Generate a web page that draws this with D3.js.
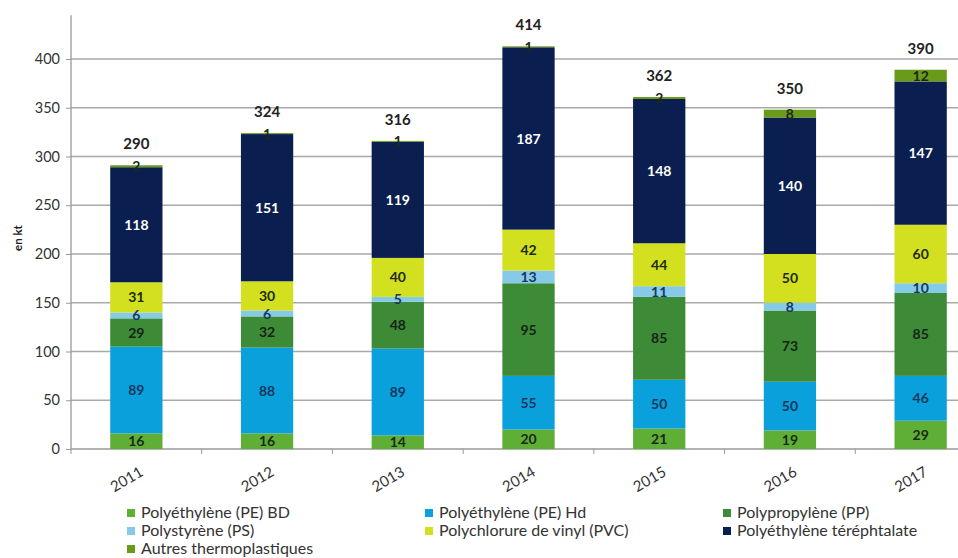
<!DOCTYPE html>
<html><head><meta charset="utf-8">
<script src="https://cdn.jsdelivr.net/npm/d3@7"></script>
<style>body{margin:0;background:#fff}svg{display:block;font-family:Lato,"Open Sans",sans-serif}</style>
</head><body><svg id="c" width="958" height="558"></svg>
<script>
const years = ["2011","2012","2013","2014","2015","2016","2017"];
const seriesNames = ["Polyéthylène (PE) BD","Polyéthylène (PE) Hd","Polypropylène (PP)","Polystyrène (PS)","Polychlorure de vinyl (PVC)","Polyéthylène téréphtalate","Autres thermoplastiques"];
const peBD  = [16,16,14,20,21,19,29];
const peHd  = [89,88,89,55,50,50,46];
const pp    = [29,32,48,95,85,73,85];
const ps    = [6,6,5,13,11,8,10];
const pvc   = [31,30,40,42,44,50,60];
const pet   = [118,151,119,187,148,140,147];
const autres= [2,1,1,1,2,8,12];
const totals= [290,324,316,414,362,350,390];
const yTicks = [0,50,100,150,200,250,300,350,400];

const seriesValues = [peBD, peHd, pp, ps, pvc, pet, autres];
const colors = ["#5fae36","#0aa0dc","#3d8b37","#85cbe8","#d2e020","#0a1f4f","#6a9a1a"];
const labelColors = ["#1a2a1a","#17375e","#142414","#17375e","#1e2a10","#ffffff","#1a2a10"];

const svg = d3.select("#c");
const x = d3.scaleBand().domain(years).range([71, 986]).paddingInner(0.6).paddingOuter(0.3);
const y = d3.scaleLinear().domain([0, 450]).range([449, 10.25]);

// gridlines
svg.append("g").selectAll("line").data(yTicks.filter(d=>d>0)).join("line")
  .attr("x1", 71).attr("x2", 958).attr("y1", d=>y(d)).attr("y2", d=>y(d))
  .attr("stroke", "#a9a9a9").attr("stroke-width", 1.3);

// y axis
const yAxis = d3.axisLeft(y).tickValues(yTicks).tickSize(5).tickPadding(6);
const ga = svg.append("g").attr("transform","translate(71,0)").call(yAxis);
ga.select(".domain").remove();
ga.selectAll(".tick line").attr("stroke","#999");
ga.selectAll(".tick text").attr("font-size",14.5).attr("fill","#333").attr("font-family","Lato, sans-serif");
svg.append("line").attr("x1",71).attr("x2",71).attr("y1",y(0)).attr("y2",y(445)).attr("stroke","#999").attr("stroke-width",1.3);

// x axis
svg.append("line").attr("x1",71).attr("x2",958).attr("y1",y(0)).attr("y2",y(0)).attr("stroke","#999").attr("stroke-width",1.3);
svg.append("g").selectAll("line").data(years).join("line")
  .attr("x1", d=>x(d) - x.step()*0.3).attr("x2", d=>x(d) - x.step()*0.3)
  .attr("y1", y(0)).attr("y2", y(0)+5).attr("stroke","#999");
svg.append("g").selectAll("text").data(years).join("text")
  .attr("transform", d=>`translate(${x(d)+x.bandwidth()/2+8},${y(0)+26}) rotate(-30)`)
  .attr("text-anchor","end").attr("font-size",15).attr("fill","#333").text(d=>d);

// y title
svg.append("text").attr("transform",`translate(22,${y(0)-(y(0)-y(445))/2+6}) rotate(-90)`)
  .attr("text-anchor","middle").attr("font-size",11.5).attr("font-weight","bold").attr("fill","#222").text("en kt");

// stacked data
const rows = years.map((yr,i)=>{ const o={year:yr}; seriesNames.forEach((s,k)=>o[s]=seriesValues[k][i]); return o; });
const stacked = d3.stack().keys(seriesNames)(rows);

const layers = svg.append("g").selectAll("g").data(stacked).join("g").attr("fill",(d,i)=>colors[i]);
layers.selectAll("rect").data(d=>d).join("rect")
  .attr("x", d=>x(d.data.year)).attr("width", x.bandwidth())
  .attr("y", d=>y(d[1])).attr("height", d=>y(d[0])-y(d[1]));

const lab = svg.append("g").selectAll("g").data(stacked).join("g");
lab.each(function(layer, li){
  d3.select(this).selectAll("text").data(layer).join("text")
    .attr("x", d=>x(d.data.year)+x.bandwidth()/2)
    .attr("y", d=>(y(d[0])+y(d[1]))/2)
    .attr("dy","0.36em").attr("text-anchor","middle")
    .attr("font-size",14).attr("font-weight","bold").attr("fill",labelColors[li])
    .text(d=>d[1]-d[0]);
});

// totals
svg.append("g").selectAll("text").data(years).join("text")
  .attr("x", d=>x(d)+x.bandwidth()/2)
  .attr("y", (d,i)=>y(stacked[stacked.length-1][i][1]) - 16)
  .attr("text-anchor","middle").attr("font-size",15).attr("font-weight","bold").attr("fill","#222")
  .text((d,i)=>totals[i]);

// legend
const colX = [127, 425, 723], rowY = [513, 531, 549];
const lg = svg.append("g").selectAll("g").data(seriesNames).join("g")
  .attr("transform",(d,i)=>`translate(${colX[i%3]},${rowY[Math.floor(i/3)]})`);
lg.append("rect").attr("x",0).attr("y",-4).attr("width",8).attr("height",8).attr("fill",(d,i)=>colors[i]);
lg.append("text").attr("x",14).attr("dy","0.34em").attr("font-size",16).attr("fill","#333").text(d=>d);
</script></body></html>
